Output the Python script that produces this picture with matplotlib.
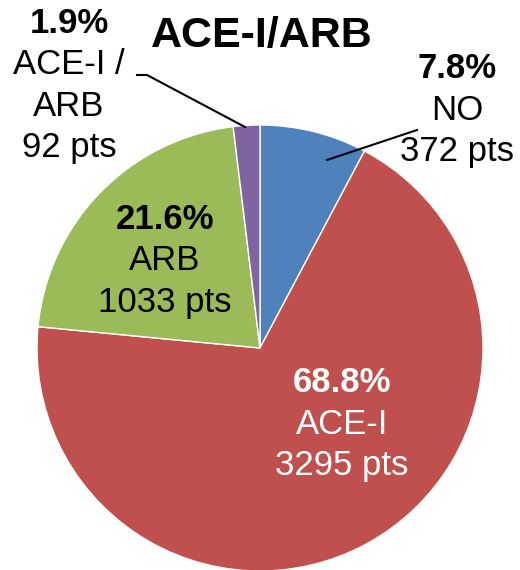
import numpy as np
import matplotlib
matplotlib.use("Agg")
from matplotlib import pyplot as plt

# data
groups = ["NO", "ACE-I", "ARB", "ACE-I /\nARB"]
patients = [372, 3295, 1033, 92]
colors = ["#4F81BD", "#C0504D", "#9BBB59", "#8064A2"]

W, H = 520, 570

def py(y):
    # pixel row -> data y (y axis points up)
    return H - y

def main():
    plt.rcParams['font.family'] = ['Liberation Sans', 'DejaVu Sans']

    fig = plt.figure(figsize=(W / 100, H / 100), dpi=100)
    ax = fig.add_axes([0, 0, 1, 1])

    cx, cy, r = 260, py(348), 223
    wedges, _ = ax.pie(patients, colors=colors, startangle=90, counterclock=False,
                       center=(cx, cy), radius=r, frame=True,
                       wedgeprops=dict(edgecolor='white', linewidth=1.0))
    ax.set_xlim(0, W)
    ax.set_ylim(0, H)
    ax.set_aspect('equal')
    ax.axis('off')

    total = sum(patients)
    pct = [100.0 * v / total for v in patients]

    # x centre, baseline of first row (pixels), text colour
    spots = [(457, 78, 'black'), (342, 392, 'white'), (165, 229, 'black'), (69, 33, 'black')]
    fs = 25
    lh = 41.5
    for name, v, p, (x, y, c) in zip(groups, patients, pct, spots):
        rows = ["%.1f%%" % p] + name.split("\n") + ["%d pts" % v]
        for i, row in enumerate(rows):
            ax.text(x, py(y + i * lh), row, ha='center', va='baseline', color=c, fontsize=fs,
                    fontweight='bold' if i == 0 else 'normal')

    # leader lines
    ax.plot([417, 327], [py(130), py(160)], color='black', lw=1.5)
    ax.plot([137, 147, 245], [py(75), py(75), py(127)], color='black', lw=1.5)

    ax.text(262, py(47), "ACE-I/ARB", ha='center', va='baseline', fontsize=31,
            fontweight='bold', color='black')

    fig.savefig("out.png", dpi=100, facecolor='white')

if __name__ == '__main__':
    main()
